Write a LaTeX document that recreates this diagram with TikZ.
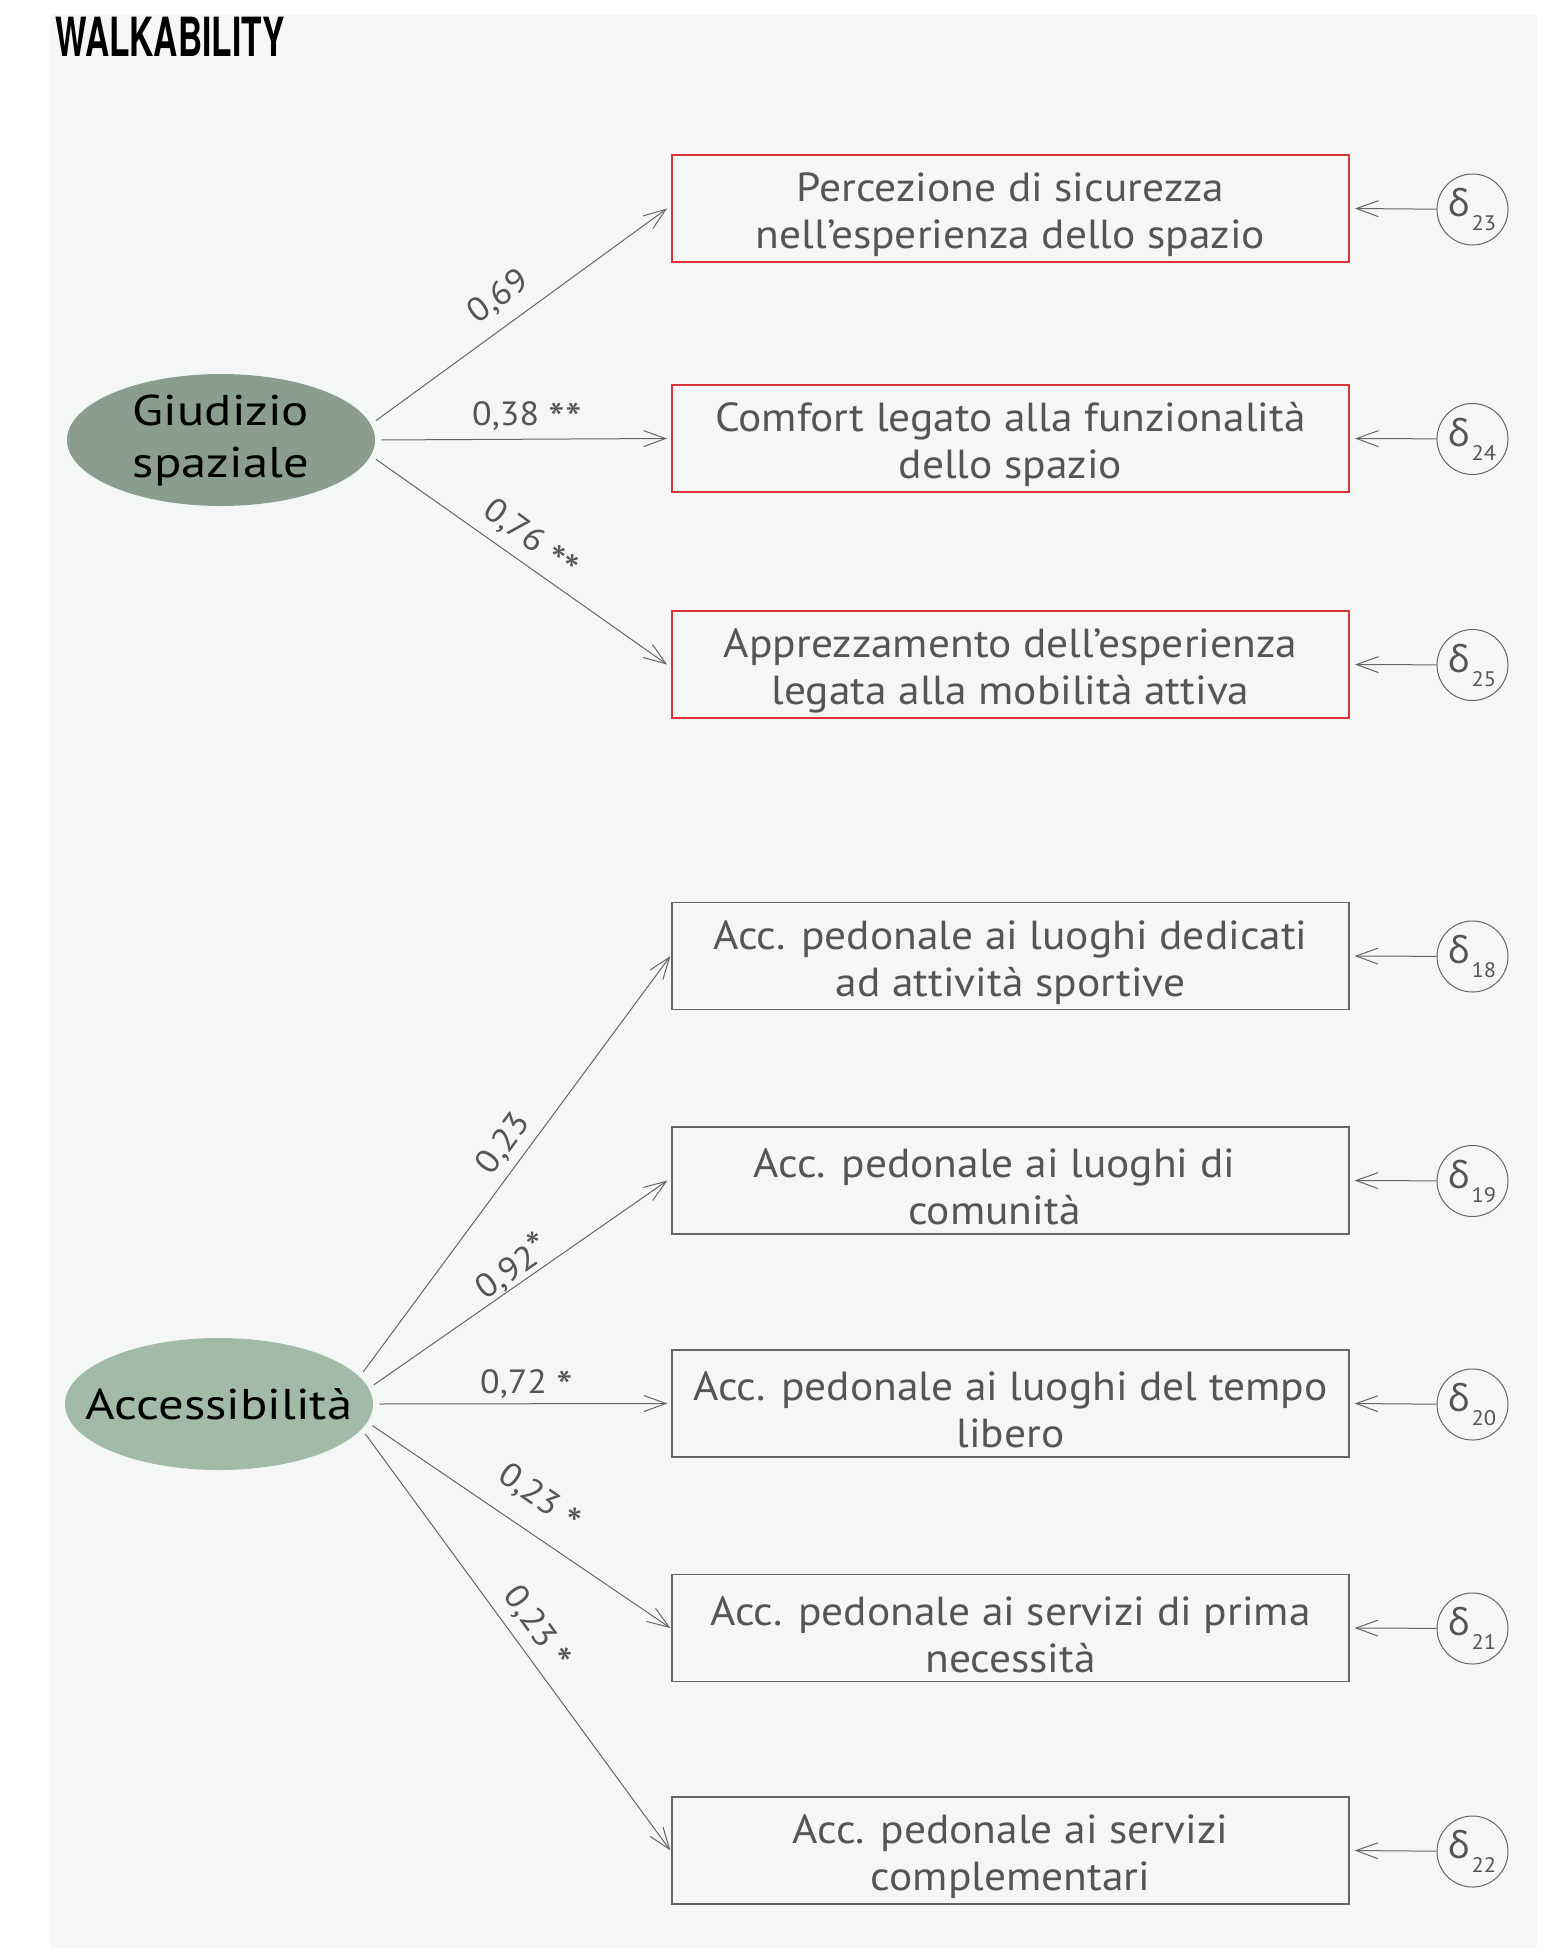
\documentclass[tikz,border=0pt]{standalone}
\usepackage{fontspec}
\setmainfont{PT Sans}[FakeStretch=1.07]
\newfontfamily\ellfont{PT Sans}[FakeStretch=1.18]
\newfontfamily\titlefont{TeX Gyre Heros}
\newfontfamily\gfont{Noto Sans}
\usetikzlibrary{arrows.meta,shapes.geometric}
\definecolor{bg}{HTML}{F5F7F6}
\definecolor{txt}{HTML}{555555}
\definecolor{ln}{HTML}{666666}
\definecolor{redb}{HTML}{D7353A}
\definecolor{ellA}{HTML}{8A9D8E}
\definecolor{ellB}{HTML}{A1BBA8}
\newcommand{\mydelta}[1]{{\gfont\fontsize{18.5}{18.5}\selectfont δ}\kern0.5pt\raisebox{-7pt}{\fontsize{10.5}{10.5}\selectfont #1}}
\newcommand{\firstl}{\rule{0pt}{21pt}}
\newcommand{\bigast}{\raisebox{-4.5pt}{\fontsize{22}{22}\selectfont *}}
\newcommand{\supast}{{\fontsize{21}{21}\selectfont *}}
\begin{document}
\begin{tikzpicture}[x=0.5pt,y=-0.5pt,
 box/.style={draw=ln, line width=0.6pt, minimum width=338.5pt, minimum height=53.5pt, inner sep=0pt, align=center, text=txt, font=\fontsize{20.3}{23.5}\selectfont},
 redbox/.style={box, draw=redb, line width=1pt},
 lat/.style={ellipse, minimum width=154pt, minimum height=66pt, inner sep=0pt, align=center, text=black, font=\ellfont\fontsize{21.5}{26}\selectfont},
 err/.style={circle, draw=ln, line width=0.5pt, minimum size=35.5pt, inner sep=0pt, text=txt},
 arr/.style={draw=ln, line width=0.5pt, -{Straight Barb[length=11pt,width=8pt]}},
 lab/.style={text=txt, font=\fontsize{16.8}{18}\selectfont, inner sep=0pt, anchor=center}
]
\fill[white] (0,0) rectangle (1549,1948);
\fill[bg] (50,14) rectangle (1537,1948);
\useasboundingbox (0,0) rectangle (1549,1948);

\node[anchor=base west, inner sep=0pt] (title) at (55,57) {\scalebox{0.62}[1]{\titlefont\bfseries\fontsize{27}{27}\selectfont WALKABILITY}};

% latent variables
\node[lat, fill=ellA] (g) at (221,440) {\makebox[0pt]{Giudizio}\\\makebox[0pt]{spaziale}};
\node[lat, fill=ellB] (a) at (219,1404) {\makebox[0pt]{Accessibilità}};

% indicators
\node[redbox] (b1) at (1010.5,208.5) {\firstl Percezione di sicurezza\\nell’esperienza dello spazio};
\node[redbox] (b2) at (1010.5,438.5) {\firstl Comfort legato alla funzionalità\\dello spazio};
\node[redbox] (b3) at (1010.5,664.5) {\firstl Apprezzamento dell’esperienza\\legata alla mobilità attiva};
\node[box] (b4) at (1010.5,956) {\firstl Acc. pedonale ai luoghi dedicati\\ad attività sportive};
\node[box] (b5) at (1010.5,1180.5) {\firstl Acc. pedonale ai luoghi di\hspace*{16pt}\\comunità\hspace*{16pt}};
\node[box] (b6) at (1010.5,1403.5) {\firstl Acc. pedonale ai luoghi del tempo\\libero};
\node[box] (b7) at (1010.5,1628) {\firstl Acc. pedonale ai servizi di prima\\necessità};
\node[box] (b8) at (1010.5,1850.5) {\firstl Acc. pedonale ai servizi\\complementari};

% errors
\node[err] (d23) at (1472.5,209.5) {\mydelta{23}};
\node[err] (d24) at (1472.5,439) {\mydelta{24}};
\node[err] (d25) at (1472.5,665) {\mydelta{25}};
\node[err] (d18) at (1472.5,956.5) {\mydelta{18}};
\node[err] (d19) at (1472.5,1181) {\mydelta{19}};
\node[err] (d20) at (1472.5,1404.5) {\mydelta{20}};
\node[err] (d21) at (1472.5,1628.5) {\mydelta{21}};
\node[err] (d22) at (1472.5,1851.5) {\mydelta{22}};

\foreach \d/\b in {d23/b1,d24/b2,d25/b3,d18/b4,d19/b5,d20/b6,d21/b7,d22/b8}
  \draw[arr] (\d) -- ([xshift=2.5pt]\b.east);

% loadings
\draw[arr, shorten <=3pt] (g.6) -- ([xshift=-2pt]b1.west);
\draw[arr, shorten <=3pt] (g.east) -- ([xshift=-2pt]b2.west);
\draw[arr, shorten <=3pt] (g.-6) -- ([xshift=-2pt]b3.west);
\draw[arr, shorten <=3pt] (a.11) -- ([xshift=-0.5pt]b4.west);
\draw[arr, shorten <=3pt] (a.6.6) -- ([xshift=-2pt]b5.west);
\draw[arr, shorten <=3pt] (a.east) -- ([xshift=-2pt]b6.west);
\draw[arr, shorten <=3pt] (a.-7.4) -- ([xshift=-0.5pt]b7.west);
\draw[arr, shorten <=3pt] (a.-10.5) -- ([xshift=-0.5pt]b8.west);

% loading labels
\node[lab, rotate=36.1] (l1) at (499,297) {0,69};
\node[lab] (l2) at (527,418.5) {0,38 \bigast\bigast};
\node[lab, rotate=-36.5] (l3) at (530,541) {0,76 \bigast\bigast};
\node[lab, rotate=53.7] (l4) at (504,1144) {0,23};
\node[lab, rotate=35.0] (l5) at (512.5,1266.5) {0,92\supast};
\node[lab] (l6) at (526.7,1386) {0,72 \bigast};
\node[lab, rotate=-34.9] (l7) at (538.5,1500) {0,23 \bigast};
\node[lab, rotate=-53.9] (l8) at (535.5,1629) {0,23 \bigast};
\end{tikzpicture}
\end{document}
